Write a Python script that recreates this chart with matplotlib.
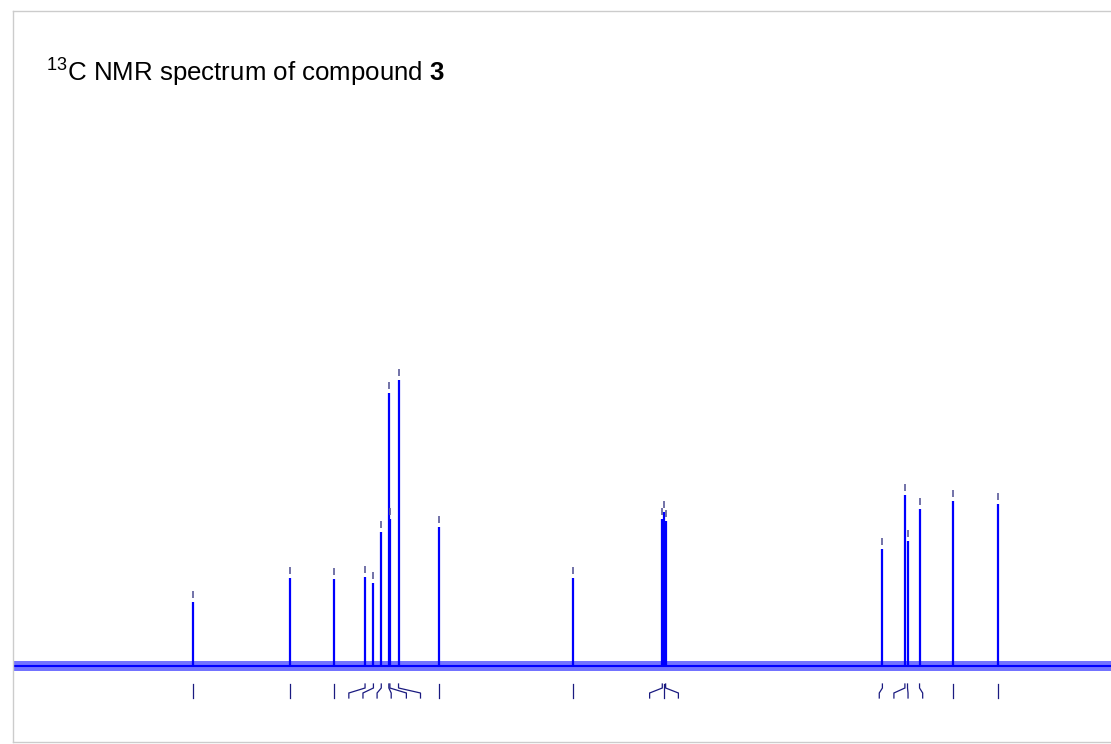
import matplotlib.pyplot as plt

plt.rcParams['font.family'] = ['Liberation Sans', 'DejaVu Sans']
plt.rcParams['mathtext.fontset'] = 'custom'
plt.rcParams['mathtext.rm'] = 'Liberation Sans'
plt.rcParams['mathtext.bf'] = 'Liberation Sans:bold'

# peak positions (ppm), intensities and the ppm where each pick label ends
peak_ppm = [167.2, 148.7, 140.2, 134.3, 132.7, 131.2, 129.75, 129.55, 127.9, 120.2,
            94.5, 77.48, 77.16, 76.84, 35.4, 31.1, 30.6, 28.3, 21.9, 13.3]
peak_int = [64, 88, 87, 89, 83, 134, 273, 147, 286, 139,
            88, 147, 154, 145, 117, 171, 125, 157, 165, 162]
label_ppm = [167.2, 148.7, 140.2, 137.4, 134.7, 132.0, 129.3, 126.4, 123.7, 120.2,
             94.5, 79.9, 77.16, 74.4, 36.0, 33.2, 30.5, 27.7, 21.9, 13.3]

ppm_range = (201.6, -8.3)

fig = plt.figure(figsize=(11.11, 7.44), dpi=100)
ax = fig.add_axes([13 / 1111, 2 / 744, 1098 / 1111, 731 / 744])
ax.set_xlim(*ppm_range)
ax.set_ylim(-76, 655)

# baseline noise band
ax.fill_between(ppm_range, [-5, -5], [5, 5], color='#0000ff', alpha=0.55,
                lw=0, zorder=2)
ax.plot(ppm_range, [0, 0], color='#0000ff', lw=1.5, zorder=2)

# peaks with small marker above each top
ax.vlines(peak_ppm, 0, peak_int, color='#0000ff', lw=1.6, zorder=3)
ax.vlines(peak_ppm, [h + 4 for h in peak_int], [h + 11 for h in peak_int],
          color='#5a5a9a', lw=1.2, zorder=3)

# peak-pick labels below the baseline
for p, q in zip(peak_ppm, label_ppm):
    ax.plot([p, p, q, q], [-18, -22, -27, -32], color='#1a1a80', lw=0.9,
            solid_joinstyle='miter')

ax.set_xticks([])
ax.set_yticks([])
for side in ['left', 'top', 'bottom']:
    ax.spines[side].set_color('#cccccc')
    ax.spines[side].set_linewidth(1.0)
ax.spines['right'].set_visible(False)

fig.text(46 / 1111, 1 - 81 / 744, r'$^{13}$C NMR spectrum of compound $\mathbf{3}$',
         fontsize=18.6, color='black', ha='left', va='baseline')

fig.savefig('out.png', dpi=100, facecolor='white')
